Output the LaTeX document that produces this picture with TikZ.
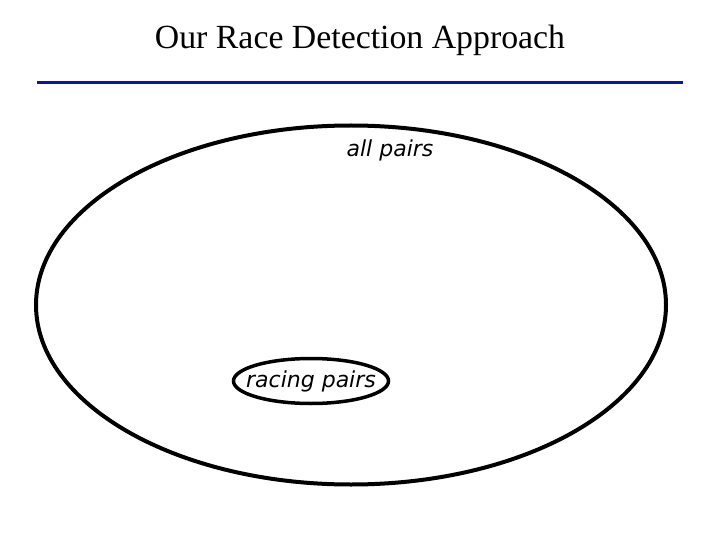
\documentclass[tikz,border=0pt]{standalone}
\usepackage{fontspec}
\setmainfont{Liberation Serif}
\newfontfamily\handfont{DejaVu Sans}
\usepackage{xcolor}
\definecolor{ruleblue}{RGB}{10,20,180}
\usetikzlibrary{shapes.geometric, positioning}

\tikzset{
  setlabel/.style={font=\handfont\itshape\fontsize{22}{26}\selectfont, inner sep=0pt},
  setring/.style={draw=black, ellipse, inner sep=0pt}
}

\begin{document}
\begin{tikzpicture}[x=1pt, y=-1pt]
  \useasboundingbox (0,0) rectangle (720,540);

  % --- Title and rule ---
  \node[font=\fontsize{33.8}{38}\selectfont] (title) at (360,40) {Our Race Detection Approach};
  \coordinate (ruleL) at (37,83);
  \coordinate (ruleR) at (683,83);
  \draw[ruleblue, line width=3pt] (ruleL) -- (ruleR);

  % --- Set of all pairs ---
  \node[setring, line width=4pt, minimum width=630pt, minimum height=359pt] (allset) at (351,305) {};
  \node[setlabel] (alllabel) at (390,150) {all pairs};

  % --- Racing pairs subset ---
  \node[setring, line width=3.5pt, minimum width=155pt, minimum height=45pt] (raceset) at (311,381) {};
  \node[setlabel] (racelabel) at (raceset.center) {racing pairs};
\end{tikzpicture}
\end{document}
